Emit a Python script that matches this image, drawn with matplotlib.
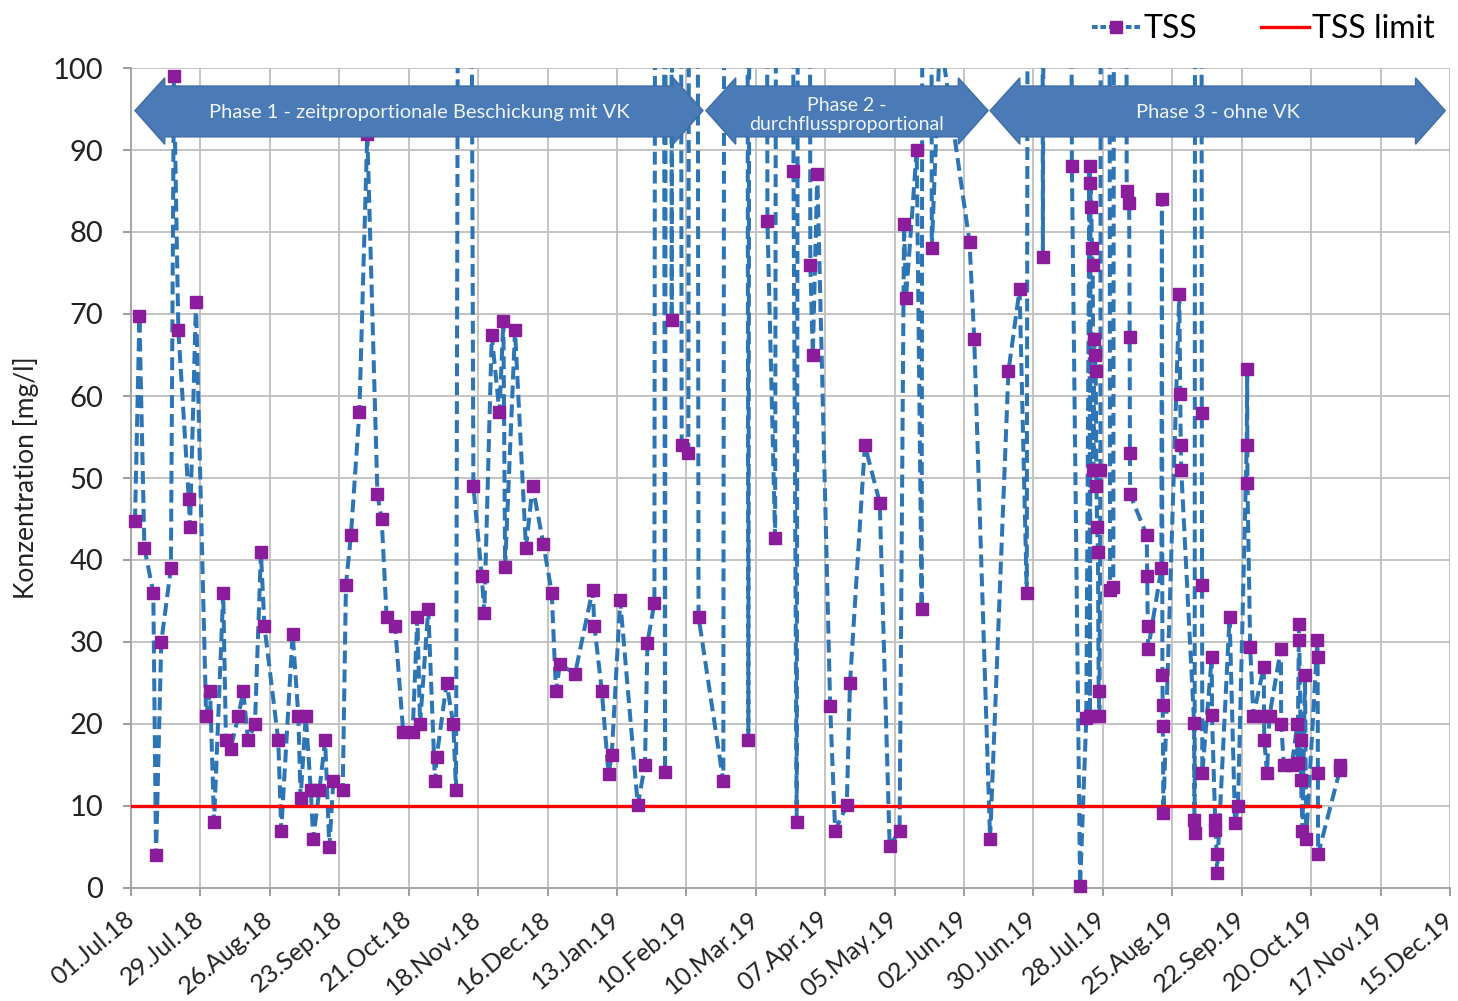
import numpy as np
import pandas as pd
import matplotlib
matplotlib.use("Agg")
import matplotlib.pyplot as plt
import matplotlib.dates as mdates
import matplotlib.transforms as mtransforms
from matplotlib.patches import Polygon
from matplotlib.lines import Line2D

plt.rcParams['font.family'] = ['Lato', 'DejaVu Sans']

# ---------------- data ----------------
start_date = "2018-07-01"
end_date = "2019-12-15"

# sampling time in days after 01.07.2018, TSS concentration in mg/l
tss_days = [
    1.6, 3.4, 5.4, 9.0, 10.1, 12.2, 16.1, 17.3, 19.1, 23.3, 23.8, 26.2, 30.3, 31.9, 33.5,
    37.2, 38.3, 40.2, 43.3, 45.3, 47.2, 50.0, 52.4, 53.8, 59.4, 60.6, 65.2, 67.5, 68.4,
    70.5, 72.5, 73.5, 76.0, 78.3, 80.0, 81.6, 85.4, 86.7, 88.7, 92.1, 95.3, 99.4, 101.1,
    103.1, 106.5, 109.8, 113.6, 115.5, 116.6, 119.9, 122.6, 123.3, 127.3, 130.0, 131.1,
    134.0, 138.1, 141.5, 142.5, 145.5, 148.6, 150.2, 150.9, 154.9, 159.3, 162.0, 166.3,
    169.7, 171.4, 173.0, 179.1, 186.2, 186.9, 189.9, 192.6, 193.9, 197.3, 204.4, 207.3,
    208.3, 211.1, 213.0, 215.4, 216.8, 218.1, 220.0, 222.1, 224.8, 226.8, 228.9, 238.9,
    244.0, 249.0, 252.5, 256.7, 259.8, 263.5, 267.2, 268.5, 271.5, 274.0, 275.0, 276.8,
    282.0, 284.0, 288.7, 290.0, 296.0, 302.0, 306.0, 310.0, 311.8, 312.6, 316.9, 318.9,
    320.8, 323.0, 326.3, 338.2, 340.1, 346.5, 353.9, 358.4, 361.3, 364.5, 367.8, 373.0,
    379.5, 382.8, 385.3, 386.6, 386.8, 387.0, 387.3, 387.6, 387.9, 388.2, 388.5, 388.8,
    389.1, 389.4, 389.7, 390.0, 390.3, 390.6, 391.0, 392.5, 394.9, 396.2, 399.0, 401.6,
    402.6, 402.8, 402.9, 403.0, 409.7, 409.9, 410.1, 410.3, 415.6, 415.8, 416.0, 416.1,
    416.2, 416.4, 422.8, 423.2, 423.4, 423.6, 428.8, 428.9, 429.0, 430.3, 431.9, 432.0,
    432.1, 435.9, 436.0, 437.3, 437.4, 437.9, 438.0, 443.1, 445.3, 446.5, 450.0, 450.2,
    450.3, 451.4, 452.7, 456.9, 457.0, 457.1, 458.2, 459.2, 463.8, 463.9, 465.0, 468.2,
    470.4, 470.5, 471.1, 471.2, 471.8, 471.9, 472.5, 473.5, 474.0, 478.5, 478.6, 478.7,
    478.8, 487.6, 487.8,
]
tss_values = [
    44.7, 69.7, 41.5, 36, 4, 30, 39, 99, 68, 47.5, 44, 71.5, 21, 24, 8,
    36, 18, 17, 21, 24, 18, 20, 41, 32, 18, 7, 31, 21, 11,
    21, 12, 6, 12, 18, 5, 13, 12, 37, 43, 58, 92, 48, 45,
    33, 32, 19, 19, 33, 20, 34, 13, 16, 25, 20, 12,
    400, 49, 38, 33.5, 67.4, 58, 69.2, 39.2, 68, 41.5, 49, 42,
    36, 24, 27.3, 26.1, 36.4, 32, 24, 13.9, 16.2, 35.1, 10.1, 15,
    29.9, 34.8, 600, 14.1, 600, 69.3, 600, 54, 53, 600, 33.1, 13,
    1500, 18.1, 900, 81.3, 42.7, 800, 87.4, 8, 700, 76, 65, 87.1,
    22.2, 7, 10.1, 25, 54, 47, 5.1, 7, 81, 72, 90, 34,
    600, 78, 104, 78.8, 67, 6, 63, 73, 36, 800, 77, 800,
    88, 0.2, 20.7, 88, 21, 86, 83, 78, 76, 51, 67, 65,
    63, 49, 44, 41, 24, 21, 51, 900, 36.3, 36.7, 900, 85,
    83.5, 67.2, 53, 48, 43, 38, 32, 29.2, 39, 84, 26, 22.3,
    19.7, 9.1, 72.4, 60.3, 54, 51, 20.1, 8.3, 6.7, 900, 57.9, 37,
    14, 28.2, 21.1, 8.3, 7.1, 4.2, 1.8, 33.1, 7.9, 10, 54, 63.3,
    49.4, 29.4, 21, 27, 21, 18, 14, 21, 29.2, 20, 15, 15,
    20, 15.2, 32.2, 30.2, 18, 13.2, 7, 26, 6, 30.2, 28.2, 14,
    4.1, 14.4, 15,
]

limit_days = [0.0, 479.5]
limit_values = [10, 10]

phase_labels = ["Phase 1 - zeitproportionale Beschickung mit VK",
                "Phase 2 -\ndurchflussproportional",
                "Phase 3 - ohne VK"]
phase_start_days = [1.6, 231.9, 346.5]
phase_end_days = [230.7, 345.7, 530.1]

y_ticks = [0, 10, 20, 30, 40, 50, 60, 70, 80, 90, 100]

# ---------------- styles ----------------
BLUE = "#2E75B6"
PURPLE = "#8B1C9C"
RED = "#FF0000"
GRID = "#BFBFBF"
ARROW = "#4A7BB7"

start = pd.Timestamp(start_date)
tss_dates = start + pd.to_timedelta(tss_days, unit="D")
limit_dates = start + pd.to_timedelta(limit_days, unit="D")
tss_vals = np.array(tss_values, dtype=float)

fig = plt.figure(figsize=(14.58, 10.01), dpi=100)
W, H = 1458, 1001
ax = fig.add_axes([131 / W, 1 - 888 / H, (1450 - 131) / W, (888 - 68) / H])

ax.plot(tss_dates, tss_vals, color=BLUE, lw=2.9, dashes=(3.2, 1.5), zorder=3)
ax.plot(limit_dates, limit_values, color=RED, lw=2.4, zorder=3.5)
vis = tss_vals <= 100
ax.plot(tss_dates[vis], tss_vals[vis], ls="none", marker="s", ms=8.5,
        color=PURPLE, mec=PURPLE, clip_on=False, zorder=4)

ax.set_ylim(0, 100)
ax.set_xlim(start, pd.Timestamp(end_date))
xt = pd.date_range(start_date, end_date, freq="28D")
ax.set_xticks(xt)
ax.set_xticklabels([d.strftime("%d.%b.%y") for d in xt], rotation=40, ha="right",
                   va="center", rotation_mode="anchor", fontsize=18, color="#222222")
shift = mtransforms.ScaledTranslation(6 / 100, 0, fig.dpi_scale_trans)
for lbl in ax.get_xticklabels():
    lbl.set_transform(lbl.get_transform() + shift)
ax.set_yticks(y_ticks)
ax.set_yticklabels([str(v) for v in y_ticks], fontsize=21, color="#222222")
ax.tick_params(axis="both", direction="out", length=6, color="#8C8C8C", width=1.2)
ax.tick_params(axis="x", pad=14)
ax.tick_params(axis="y", pad=14)
ax.grid(True, color=GRID, lw=1.3, zorder=0)
ax.set_axisbelow(True)
for s in ["top", "right"]:
    ax.spines[s].set_visible(False)
for s in ["left", "bottom"]:
    ax.spines[s].set_color("#A6A6A6")
    ax.spines[s].set_linewidth(1.4)

ax.set_ylabel("Konzentration [mg/l]", fontsize=19, color="#222222", labelpad=10)

# phase arrows
y_c, y_bt, y_bb, y_ht, y_hb = 94.8, 97.8, 91.6, 98.8, 90.7
head = 12.0
for lab, s, e in zip(phase_labels, phase_start_days, phase_end_days):
    x0 = mdates.date2num(start + pd.Timedelta(days=s))
    x1 = mdates.date2num(start + pd.Timedelta(days=e))
    pts = [(x0, y_c), (x0 + head, y_ht), (x0 + head, y_bt), (x1 - head, y_bt),
           (x1 - head, y_ht), (x1, y_c), (x1 - head, y_hb), (x1 - head, y_bb),
           (x0 + head, y_bb), (x0 + head, y_hb)]
    poly = Polygon(pts, closed=True, facecolor=ARROW, edgecolor="#3F6DA6",
                   lw=1.0, zorder=6, clip_on=False)
    ax.add_patch(poly)
    two = "\n" in lab
    ax.text((x0 + x1) / 2, 94.3 if two else 94.6, lab,
            ha="center", va="center", fontsize=14 if two else 14.5,
            color="#EEF3FA", zorder=7, linespacing=1.15)

# legend
h_tss = Line2D([], [], color=BLUE, lw=2.9, dashes=(1.4, 0.7), marker="s", ms=8.5,
               mfc=PURPLE, mec=PURPLE)
h_lim = Line2D([], [], color=RED, lw=2.4)
fig.legend([h_tss, h_lim], ["TSS", "TSS limit"], loc="upper right",
           bbox_to_anchor=(1.004, 1.015), ncol=2, frameon=False, fontsize=23,
           handlelength=1.5, handletextpad=0.1, columnspacing=2.0)

fig.savefig("out.png", dpi=100)
